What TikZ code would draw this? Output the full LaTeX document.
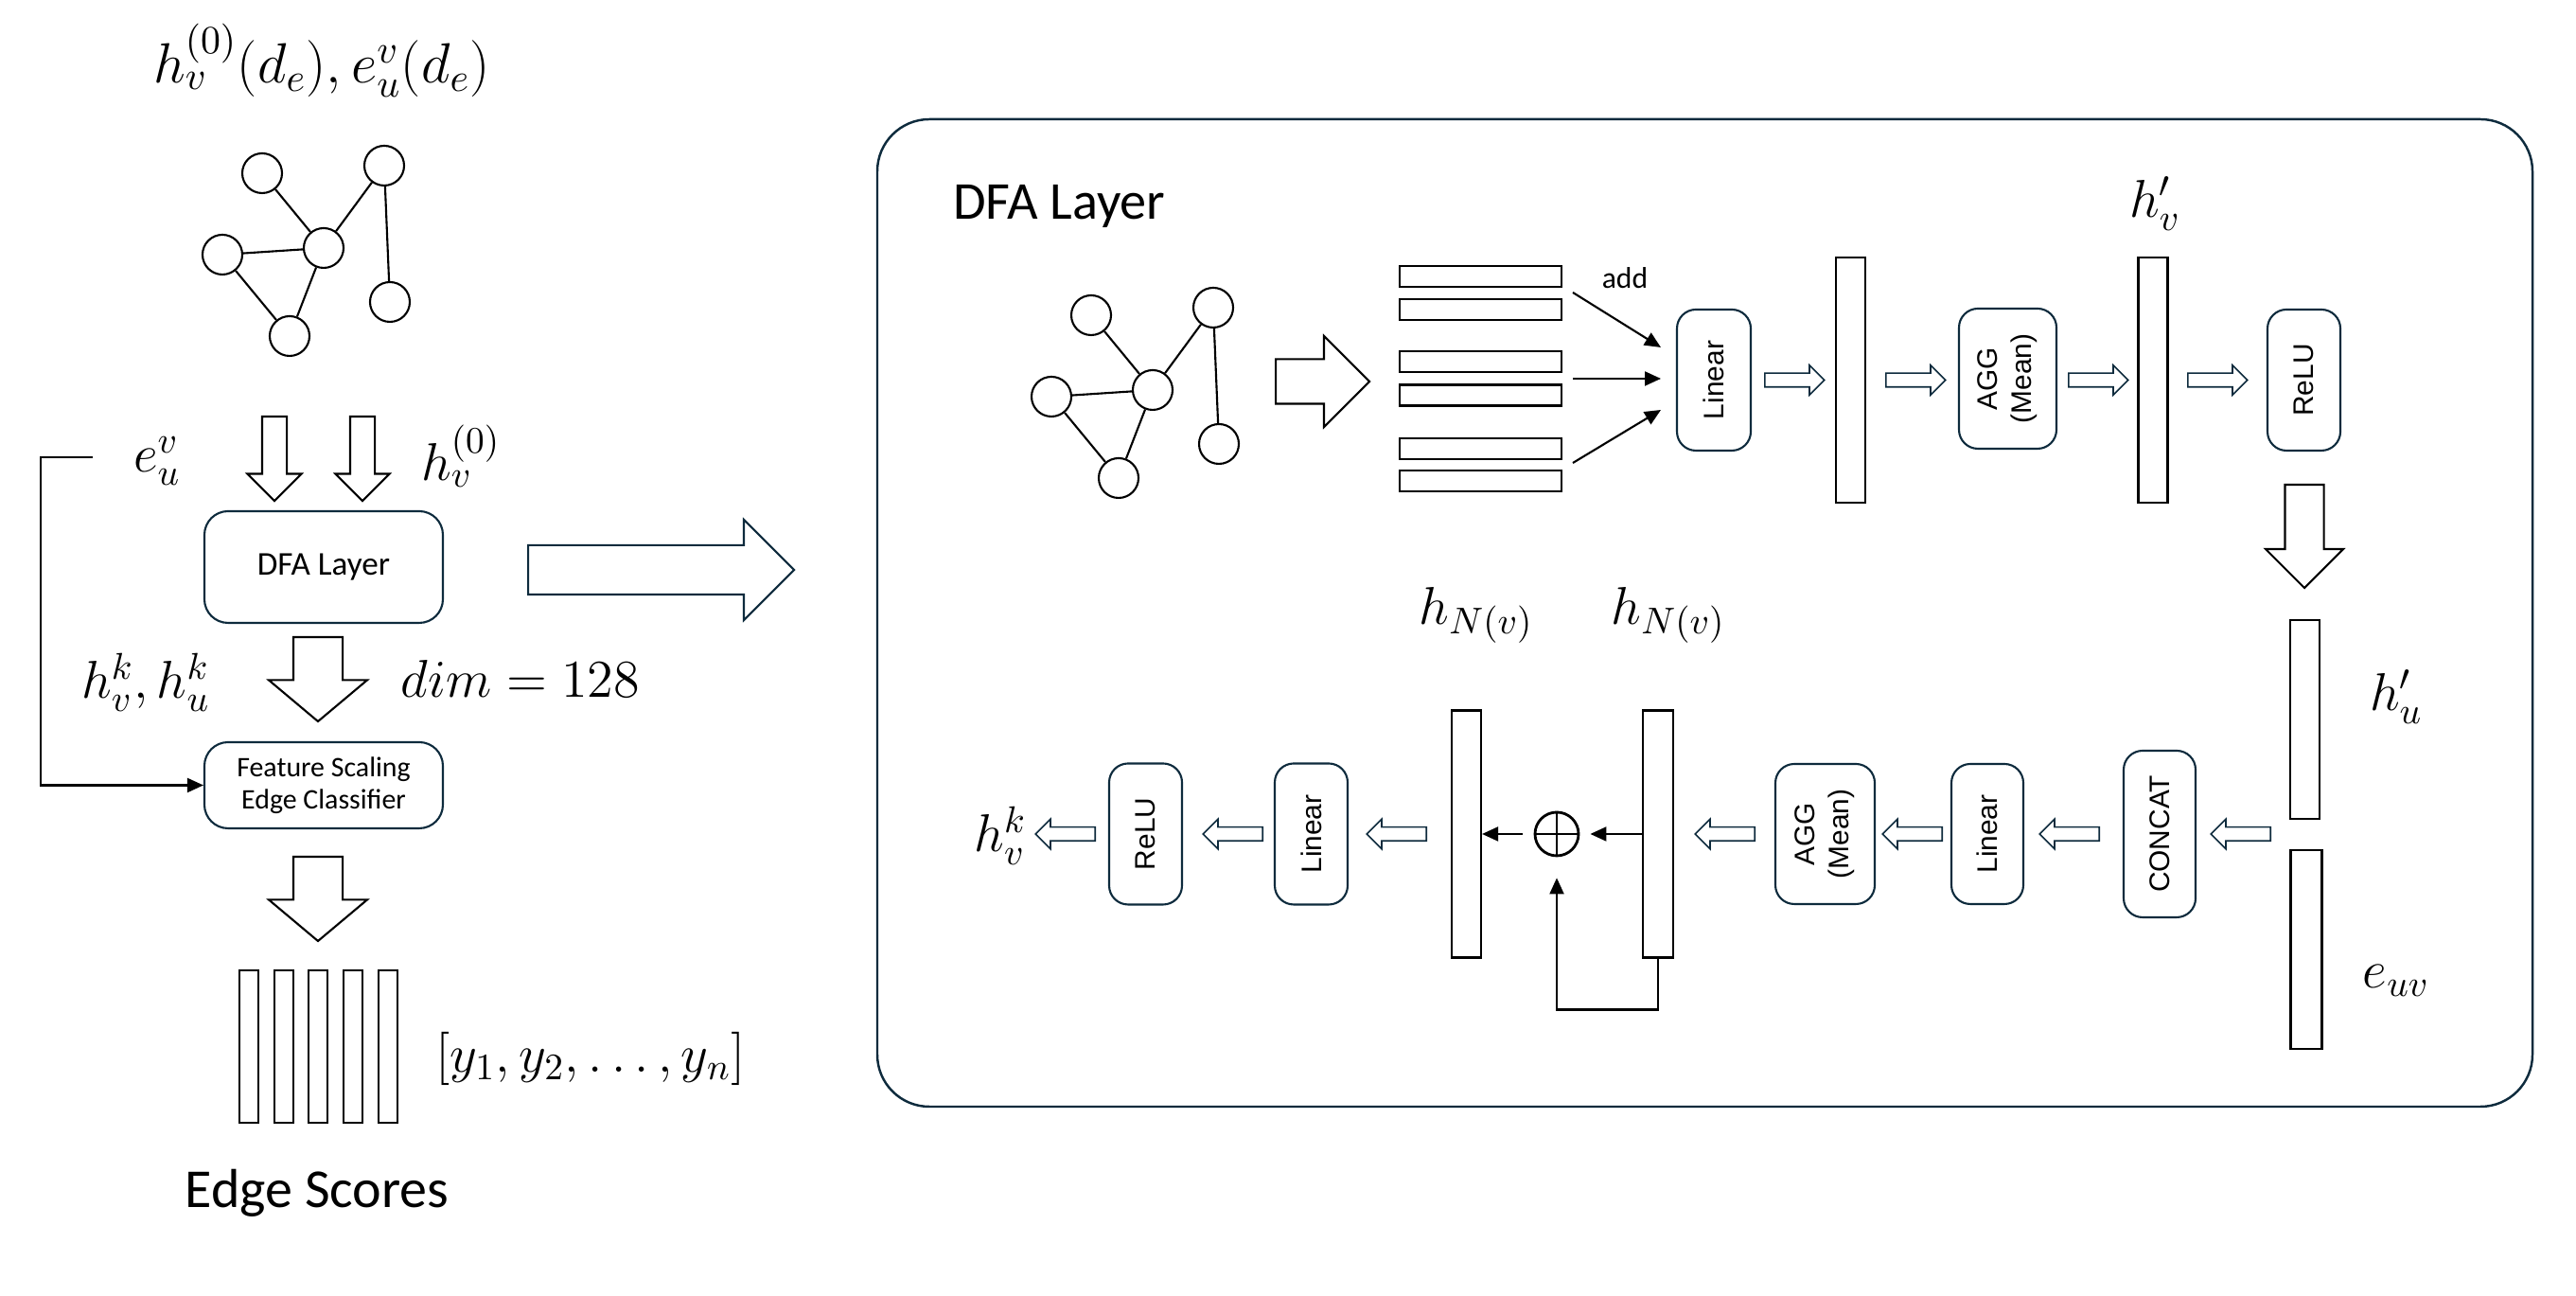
\RequirePackage{fix-cm}
\documentclass[tikz,border=0pt]{standalone}
\usepackage{amsmath}
\usepackage{fontspec}
\newfontfamily\calib{Carlito}
\newfontfamily\arial{Liberation Sans}
\usepackage{xcolor}
\usepackage{tikz}
\usetikzlibrary{arrows.meta,shapes.arrows}
\definecolor{darkteal}{HTML}{0E2B3D}

\begin{document}
\begin{tikzpicture}[line width=0.6pt]
\tikzstyle{every node} = [inner sep=0pt]
\tikzstyle{vertex} = [circle, draw, fill=white, minimum size=0.42cm]
\tikzstyle{featbar} = [rectangle, draw, fill=white]
\tikzstyle{stage} = [rectangle, draw=darkteal, fill=white, rounded corners=0.25cm, align=center]
\tikzstyle{layer} = [rectangle, draw=darkteal, fill=white, rounded corners=0.2cm, rotate=90, align=center, font=\arial\fontsize{8.5}{10.3}\selectfont]
\tikzstyle{hollow} = [single arrow, draw, fill=white, anchor=tail, text height=0pt, text depth=0pt, inner xsep=0pt, single arrow tip angle=90]
\tikzstyle{flowarrow} = [hollow, draw=darkteal, line width=0.45pt, minimum height=0.63cm, inner ysep=0.065cm, single arrow head extend=0.085cm]
\tikzstyle{mathlbl} = [font=\fontsize{16}{19}\selectfont]
\tikzstyle{link} = [-{Triangle[length=0.17cm,width=0.15cm]}]

\useasboundingbox (0,0) rectangle (27.22,13.69);

\node[font=\fontsize{17}{20}\selectfont] (inputs) at (3.40,13.05) {$h_v^{(0)}(d_e), e_u^v(d_e)$};
\node[vertex] (g1) at (2.77,11.86) {};
\node[vertex] (g2) at (4.06,11.94) {};
\node[vertex] (g4) at (3.42,11.07) {}
	edge (g1)
	edge (g2);
\node[vertex] (g3) at (2.35,11.00) {}
	edge (g4);
\node[vertex] (g5) at (4.12,10.50) {}
	edge (g2);
\node[vertex] (g6) at (3.06,10.14) {}
	edge (g3)
	edge (g4);

\node[hollow, rotate=-90, minimum height=0.89cm, inner ysep=0.12cm, single arrow head extend=0.155cm] (in1) at (2.90,9.30) {};
\node[hollow, rotate=-90, minimum height=0.89cm, inner ysep=0.12cm, single arrow head extend=0.155cm] (in2) at (3.83,9.30) {};
\node[mathlbl] (euv0) at (1.66,8.82) {$e_u^v$};
\node[mathlbl] (hv0) at (4.87,8.87) {$h_v^{(0)}$};
\node[stage, minimum width=2.52cm, minimum height=1.18cm, font=\calib\fontsize{10}{12}\selectfont] (dfa) at (3.42,7.70) {DFA Layer};
\node[hollow, draw=darkteal, minimum height=2.81cm, inner ysep=0.25cm, single arrow head extend=0.27cm] (zoomarrow) at (5.57,7.67) {};
\node[hollow, rotate=-90, minimum height=0.89cm, inner ysep=0.25cm, single arrow head extend=0.26cm, single arrow tip angle=100] (out1) at (3.36,6.97) {};
\node[mathlbl] (hk) at (1.54,6.48) {$h_v^k, h_u^k$};
\node[mathlbl] (dim) at (5.50,6.52) {$dim = 128$};
\node[stage, minimum width=2.52cm, minimum height=0.91cm, font=\calib\fontsize{8.5}{9.6}\selectfont] (fs) at (3.42,5.395) {Feature Scaling\\Edge Classifier};
\coordinate (fb) at (0.98,8.86);
\draw[link] (fb) -- ++(-0.55,0) |- (fs.west);
\node[hollow, rotate=-90, minimum height=0.89cm, inner ysep=0.25cm, single arrow head extend=0.26cm, single arrow tip angle=100] (out2) at (3.36,4.65) {};
\node[featbar, minimum width=0.20cm, minimum height=1.61cm] (y1) at (2.63,2.635) {};
\node[featbar, minimum width=0.20cm, minimum height=1.61cm] (y2) at (2.997,2.635) {};
\node[featbar, minimum width=0.20cm, minimum height=1.61cm] (y3) at (3.364,2.635) {};
\node[featbar, minimum width=0.20cm, minimum height=1.61cm] (y4) at (3.731,2.635) {};
\node[featbar, minimum width=0.20cm, minimum height=1.61cm] (y5) at (4.098,2.635) {};
\node[mathlbl] (ylist) at (6.24,2.51) {$[y_1, y_2, \ldots, y_n]$};
\node[font=\calib\fontsize{16.5}{19}\selectfont] (scores) at (3.35,1.09) {Edge Scores};

\node[draw=darkteal, line width=0.7pt, rounded corners=0.55cm, minimum width=17.49cm, minimum height=10.43cm] (dfabox) at (18.015,7.215) {};
\node[anchor=base west, font=\calib\fontsize{16}{19}\selectfont] (dfatitle) at (10.06,11.37) {DFA Layer};

\node[vertex] (k1) at (11.53,10.36) {};
\node[vertex] (k2) at (12.82,10.44) {};
\node[vertex] (k4) at (12.18,9.57) {}
	edge (k1)
	edge (k2);
\node[vertex] (k3) at (11.11,9.50) {}
	edge (k4);
\node[vertex] (k5) at (12.88,9.00) {}
	edge (k2);
\node[vertex] (k6) at (11.82,8.64) {}
	edge (k3)
	edge (k4);
\node[hollow, minimum height=0.99cm, inner ysep=0.225cm, single arrow head extend=0.245cm] (split) at (13.47,9.66) {};

\node[featbar, minimum width=1.71cm, minimum height=0.22cm] (e1) at (15.645,10.77) {};
\node[featbar, minimum width=1.71cm, minimum height=0.22cm] (e2) at (15.645,10.42) {};
\node[featbar, minimum width=1.71cm, minimum height=0.22cm] (e3) at (15.645,9.87) {};
\node[featbar, minimum width=1.71cm, minimum height=0.22cm] (e4) at (15.645,9.515) {};
\node[featbar, minimum width=1.71cm, minimum height=0.22cm] (e5) at (15.645,8.95) {};
\node[featbar, minimum width=1.71cm, minimum height=0.22cm] (e6) at (15.645,8.61) {};
\node[font=\calib\fontsize{9}{11}\selectfont] (add) at (17.17,10.75) {add};

\node[layer, minimum width=1.49cm, minimum height=0.78cm] (lin1) at (18.11,9.675) {Linear};
\coordinate (a1) at (16.62,10.60);
\coordinate (a2) at (16.62,9.69);
\coordinate (a3) at (16.62,8.80);
\coordinate (l1) at (17.55,10.02);
\coordinate (l2) at (17.55,9.69);
\coordinate (l3) at (17.55,9.36);
\draw[link] (a1) -- (l1);
\draw[link] (a2) -- (l2);
\draw[link] (a3) -- (l3);

\node[flowarrow] (s1) at (18.64,9.675) {};
\node[featbar, minimum width=0.31cm, minimum height=2.59cm] (b1) at (19.555,9.675) {};
\node[flowarrow] (s2) at (19.92,9.675) {};
\node[layer, minimum width=1.48cm, minimum height=1.03cm] (agg1) at (21.215,9.69) {AGG\\(Mean)};
\node[flowarrow] (s3) at (21.85,9.675) {};
\node[featbar, minimum width=0.31cm, minimum height=2.59cm] (b2) at (22.75,9.675) {};
\node[mathlbl] (hvp) at (22.77,11.54) {$h'_v$};
\node[flowarrow] (s4) at (23.11,9.675) {};
\node[layer, minimum width=1.49cm, minimum height=0.77cm] (relu1) at (24.345,9.675) {ReLU};
\node[hollow, rotate=-90, minimum height=1.09cm, inner ysep=0.195cm, single arrow head extend=0.205cm] (down) at (24.35,8.58) {};

\node[featbar, minimum width=0.31cm, minimum height=2.10cm] (hu) at (24.355,6.09) {};
\node[featbar, minimum width=0.33cm, minimum height=2.10cm] (euv) at (24.37,3.66) {};
\node[mathlbl] (hup) at (25.32,6.33) {$h'_u$};
\node[mathlbl] (euvl) at (25.32,3.33) {$e_{uv}$};

\node[flowarrow, rotate=180] (t1) at (24.00,4.88) {};
\node[layer, minimum width=1.76cm, minimum height=0.76cm] (concat) at (22.82,4.88) {CONCAT};
\node[flowarrow, rotate=180] (t2) at (22.19,4.88) {};
\node[layer, minimum width=1.48cm, minimum height=0.76cm] (lin2) at (21.00,4.88) {Linear};
\node[flowarrow, rotate=180] (t3) at (20.53,4.88) {};
\node[layer, minimum width=1.48cm, minimum height=1.05cm] (agg2) at (19.285,4.88) {AGG\\(Mean)};
\node[flowarrow, rotate=180] (t4) at (18.55,4.88) {};
\node[featbar, minimum width=0.32cm, minimum height=2.61cm] (rb) at (17.52,4.88) {};
\node[circle, draw, line width=0.8pt, minimum size=0.46cm] (op) at (16.45,4.88) {};
\draw[line width=0.8pt] (op.north) -- (op.south) (op.west) -- (op.east);
\node[featbar, minimum width=0.31cm, minimum height=2.61cm] (lb) at (15.495,4.88) {};
\node[mathlbl] (hn1) at (15.60,7.19) {$h_{N(v)}$};
\node[mathlbl] (hn2) at (17.63,7.19) {$h_{N(v)}$};
\draw[link] (rb.west) -- ([xshift=0.11cm]op.east);
\draw[link] ([xshift=-0.12cm]op.west) -- (lb.east);
\draw[link] (rb.south) -- ++(0,-0.54) -| ([yshift=-0.22cm]op.south);
\node[flowarrow, rotate=180] (t5) at (15.08,4.88) {};
\node[layer, minimum width=1.49cm, minimum height=0.77cm] (lin3) at (13.855,4.88) {Linear};
\node[flowarrow, rotate=180] (t6) at (13.35,4.88) {};
\node[layer, minimum width=1.49cm, minimum height=0.77cm] (relu2) at (12.105,4.88) {ReLU};
\node[flowarrow, rotate=180] (t7) at (11.58,4.88) {};
\node[mathlbl] (hvk) at (10.57,4.86) {$h_v^k$};
\end{tikzpicture}
\end{document}
